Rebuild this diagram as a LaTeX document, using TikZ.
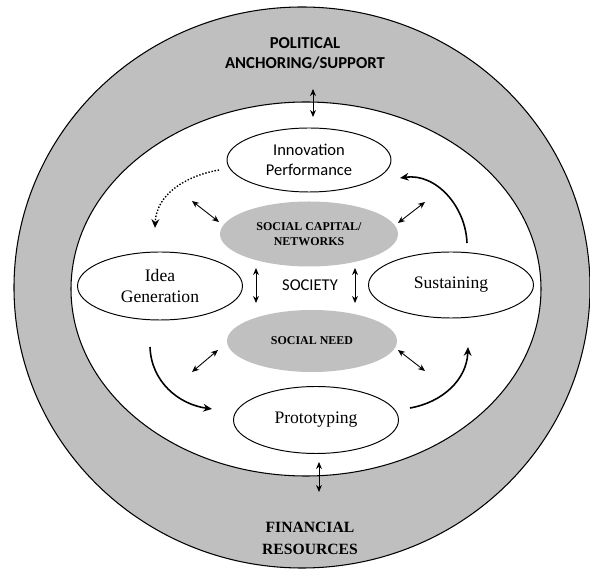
\documentclass[tikz,border=0pt]{standalone}
\usepackage{fontspec}
\setmainfont{Liberation Serif}
\newfontfamily\calibri{Carlito}
\usepackage{xcolor}
\usetikzlibrary{shapes,arrows.meta,positioning,calc}
\definecolor{bandgray}{RGB}{191,191,191}
\definecolor{coregray}{RGB}{192,192,192}

\begin{document}
\begin{tikzpicture}[
    band/.style={draw, line width=0.6pt, fill=bandgray},
    phase/.style={ellipse, draw, line width=0.55pt, fill=white, minimum width=3.3cm, minimum height=1.32cm, inner sep=0pt, align=center, font=\fontsize{10}{12}\selectfont},
    core/.style={ellipse, fill=coregray, minimum width=3.5cm, minimum height=1.28cm, inner sep=0pt, align=center, font=\fontsize{6.8}{8.4}\selectfont\bfseries},
    link/.style={{Stealth[length=4pt,width=3.4pt]}-{Stealth[length=4pt,width=3.4pt]}, line width=0.5pt},
    flow/.style={-{Stealth[length=5pt,width=4.4pt]}, line width=0.9pt}
  ]
  \useasboundingbox (0,0) rectangle (11.8,11.4);

  % Rings
  \draw[band] (6.04,5.65) ellipse [x radius=5.76, y radius=5.61];
  \draw[line width=0.6pt, fill=white] (6.12,5.62) ellipse [x radius=4.70, y radius=3.74];
  \node[align=center, font=\calibri\bfseries\fontsize{9.5}{11.4}\selectfont] (political) at (6.1,10.34) {POLITICAL\\ANCHORING/SUPPORT};
  \node[align=center, font=\bfseries\fontsize{8.9}{12.5}\selectfont] (financial) at (6.2,0.64) {FINANCIAL\\RESOURCES};

  % Phases
  \node[phase, minimum width=3.28cm, minimum height=1.28cm, font=\calibri\fontsize{9.4}{11.4}\selectfont] (innov) at (6.18,8.2) {Innovation\\Performance};
  \node[phase, minimum height=1.36cm] (idea) at (3.2,5.68) {Idea\\Generation};
  \node[phase] (sustain) at (9.02,5.7) {Sustaining};
  \node[phase, minimum height=1.34cm] (proto) at (6.32,3.0) {Prototyping};

  % Society core
  \node[core, minimum width=3.56cm, minimum height=1.3cm] (capital) at (6.18,6.72) {SOCIAL CAPITAL/\\NETWORKS};
  \node[core, minimum width=3.4cm, minimum height=1.24cm] (need) at (6.24,4.58) {SOCIAL NEED};
  \node[font=\calibri\fontsize{9.4}{11}\selectfont] (society) at (6.2,5.7) {SOCIETY};

  % Arrow ends
  \coordinate (pol1) at (6.26,9.62);   \coordinate (pol2) at (6.26,9.06);
  \coordinate (fin1) at (6.38,2.16);   \coordinate (fin2) at (6.38,1.56);
  \coordinate (vl1) at (5.12,6.04);    \coordinate (vl2) at (5.12,5.34);
  \coordinate (vr1) at (7.1,6.04);     \coordinate (vr2) at (7.1,5.34);
  \coordinate (tl1) at (3.84,7.38);    \coordinate (tl2) at (4.38,6.96);
  \coordinate (tr1) at (8.5,7.36);     \coordinate (tr2) at (7.96,6.94);
  \coordinate (bl1) at (4.36,4.4);     \coordinate (bl2) at (3.84,3.96);
  \coordinate (br1) at (7.96,4.4);     \coordinate (br2) at (8.5,3.98);

  \draw[link] (pol1) -- (pol2);
  \draw[link] (fin1) -- (fin2);
  \draw[link] (vl1) -- (vl2);
  \draw[link] (vr1) -- (vr2);
  \draw[link] (tl1) -- (tl2);
  \draw[link] (tr1) -- (tr2);
  \draw[link] (bl1) -- (bl2);
  \draw[link] (br1) -- (br2);

  % Cycle
  \coordinate (c1) at (4.38,8.0);   \coordinate (c2) at (3.1,6.84);
  \coordinate (c3) at (3.0,4.46);   \coordinate (c4) at (4.24,3.22);
  \coordinate (c5) at (8.2,3.24);   \coordinate (c6) at (9.36,4.46);
  \coordinate (c7) at (9.34,6.54);  \coordinate (c8) at (8.0,7.84);
  \draw[flow, line width=0.8pt, densely dotted] (c1) to[out=190, in=88] (c2);
  \draw[flow] (c3) to[out=-88, in=172] (c4);
  \draw[flow] (c5) to[out=10, in=-92] (c6);
  \draw[flow] (c7) to[out=92, in=8] (c8);
\end{tikzpicture}
\end{document}
